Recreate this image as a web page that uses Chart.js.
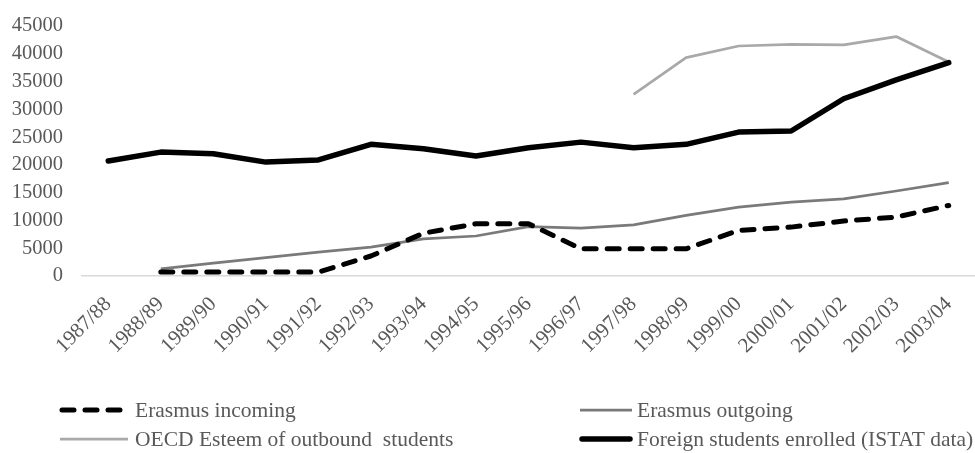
<!DOCTYPE html>
<html>
<head>
<meta charset="utf-8">
<script src="https://cdn.jsdelivr.net/npm/chart.js@4/dist/chart.umd.min.js"></script>
<style>
  html, body { margin: 0; padding: 0; background: #ffffff; }
  #wrap { position: relative; width: 975px; height: 453px; }
</style>
</head>
<body>
<div id="wrap"><canvas id="chart" width="975" height="453"></canvas></div>
<script>
// Academic years on the category axis
const years = ['1987/88', '1988/89', '1989/90', '1990/91', '1991/92', '1992/93', '1993/94', '1994/95',
  '1995/96', '1996/97', '1997/98', '1998/99', '1999/00', '2000/01', '2001/02', '2002/03', '2003/04'];

// Student counts per year (null = no figure for that year)
const erasmusIncoming = [null, 700, 700, 700, 700, 3600, 7700, 9400, 9400, 4900, 4900, 4900, 8200, 8800, 9900, 10600, 12700];
const erasmusOutgoing = [null, 1300, 2300, 3300, 4300, 5200, 6700, 7200, 8900, 8600, 9200, 10900, 12400, 13300, 13900, 15300, 16800];
const oecdOutbound = [null, null, null, null, null, null, null, null, null, null, 32700, 39300, 41400, 41700, 41600, 43100, 38500];
const foreignEnrolled = [20700, 22300, 22000, 20500, 20900, 23700, 22900, 21600, 23100, 24100, 23100, 23700, 25900, 26100, 31900, 35300, 38400];

// Value axis range
const yMin = 0;
const yMax = 45000;
const yStep = 5000;

const FONT = '"Liberation Serif", "Times New Roman", serif';
const TEXT = '#595959';

// Two-column legend drawn under the plot, using each dataset's own line style
const gridLegend = {
  id: 'gridLegend',
  afterDraw(chart, args, opts) {
    const ctx = chart.ctx;
    opts.items.forEach(item => {
      const ds = chart.data.datasets[item.index];
      ctx.save();
      ctx.strokeStyle = ds.borderColor;
      ctx.lineWidth = ds.borderWidth;
      ctx.lineCap = ds.borderCapStyle || 'butt';
      ctx.setLineDash(ds.borderDash || []);
      ctx.beginPath();
      ctx.moveTo(item.x0, item.y);
      ctx.lineTo(item.x1, item.y);
      ctx.stroke();
      ctx.setLineDash([]);
      ctx.fillStyle = TEXT;
      ctx.font = opts.font;
      ctx.textBaseline = 'middle';
      ctx.textAlign = 'left';
      ctx.fillText(ds.label, item.tx, item.y + 1);
      ctx.restore();
    });
  }
};

new Chart(document.getElementById('chart'), {
  type: 'line',
  data: {
    labels: years,
    datasets: [
      {
        label: 'Erasmus incoming',
        data: erasmusIncoming,
        borderColor: '#000000',
        borderWidth: 5,
        borderDash: [12, 11],
        borderCapStyle: 'round',
        order: 1
      },
      {
        label: 'Erasmus outgoing',
        data: erasmusOutgoing,
        borderColor: '#7a7a7a',
        borderWidth: 2.75,
        borderCapStyle: 'butt',
        order: 2
      },
      {
        label: 'OECD Esteem of outbound  students',
        data: oecdOutbound,
        borderColor: '#a9a9a9',
        borderWidth: 2.75,
        borderCapStyle: 'butt',
        order: 3
      },
      {
        label: 'Foreign students enrolled (ISTAT data)',
        data: foreignEnrolled,
        borderColor: '#000000',
        borderWidth: 5.5,
        borderCapStyle: 'round',
        order: 0
      }
    ]
  },
  options: {
    responsive: false,
    animation: false,
    devicePixelRatio: 1,
    layout: { padding: { top: 26, right: 0, bottom: 100, left: 0 } },
    elements: {
      point: { radius: 0, hoverRadius: 0 },
      line: { tension: 0, borderJoinStyle: 'round', fill: false }
    },
    plugins: {
      legend: { display: false },
      tooltip: { enabled: false },
      gridLegend: {
        font: '21.5px ' + FONT,
        items: [
          { index: 0, x0: 62, x1: 128, tx: 135, y: 410 },
          { index: 1, x0: 580, x1: 632, tx: 637, y: 410 },
          { index: 2, x0: 60, x1: 128, tx: 135, y: 439 },
          { index: 3, x0: 582, x1: 630, tx: 637, y: 439 }
        ]
      }
    },
    scales: {
      x: {
        type: 'category',
        offset: true,
        grid: { display: false, drawTicks: false },
        border: { display: true, color: '#d9d9d9', width: 1.5 },
        ticks: {
          autoSkip: false,
          maxRotation: 45,
          minRotation: 45,
          padding: 16,
          color: TEXT,
          font: { family: FONT, size: 21 }
        },
        afterFit(scale) {
          scale.height = 77;
          scale.paddingLeft = 0;
          scale.paddingRight = 0;
        }
      },
      y: {
        min: yMin,
        max: yMax,
        grid: { display: false, drawTicks: false },
        border: { display: false },
        ticks: {
          stepSize: yStep,
          autoSkip: false,
          padding: 19,
          color: TEXT,
          font: { family: FONT, size: 20.5 },
          callback: v => String(v)
        },
        afterFit(scale) {
          scale.width = 82;
          scale.paddingTop = 0;
          scale.paddingBottom = 0;
        }
      }
    }
  },
  plugins: [gridLegend]
});
</script>
</body>
</html>
